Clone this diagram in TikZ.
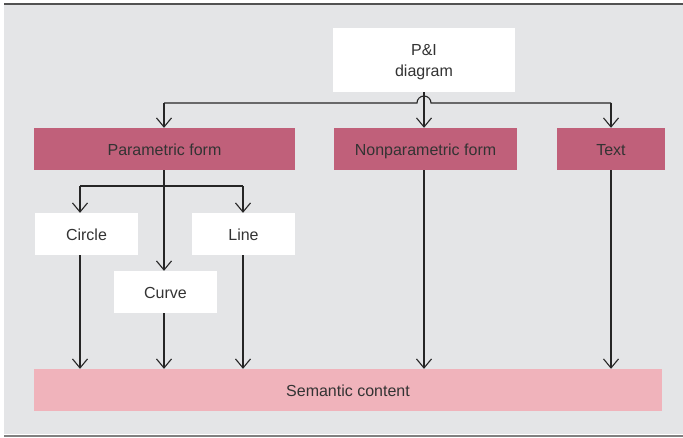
\documentclass[tikz,border=0pt]{standalone}
\usepackage{fontspec}
\setmainfont{Liberation Sans}
\usetikzlibrary{arrows.meta}
\definecolor{bg}{RGB}{228,229,231}
\definecolor{rose}{RGB}{192,96,122}
\definecolor{pink}{RGB}{240,179,187}
\definecolor{txt}{RGB}{51,51,51}
\begin{document}
\begin{tikzpicture}[x=1pt,y=-1pt,
  box/.style={draw=none,inner sep=0pt,text=txt,font=\fontsize{16}{21}\selectfont},
  one/.style={text height=13.5pt,text depth=0.5pt},
  wbox/.style={box,fill=white},
  rbox/.style={box,fill=rose},
  pbox/.style={box,fill=pink},
  conn/.style={draw=black!85,line width=1.1pt},
  arr/.style={conn,-{Straight Barb[length=9pt,width=15pt,line width=1.1pt]}}]
\useasboundingbox (0,0) rectangle (683,437);
\fill[bg] (4,4.5) rectangle (683,434);
\fill[black!68] (4,3) rectangle (683,4.8);
\fill[black!50] (4,434.5) rectangle (683,437);
% nodes
\node[wbox,align=center,text depth=0pt,minimum width=182pt,minimum height=64pt] (pid) at (424,60) {P\&I\\diagram};
\node[rbox,one,minimum width=261pt,minimum height=42pt] (pf) at (164.5,149) {Parametric form};
\node[rbox,one,minimum width=183pt,minimum height=42pt] (npf) at (425.5,149) {Nonparametric form};
\node[rbox,one,minimum width=108pt,minimum height=42pt] (tx) at (611,149) {Text};
\node[wbox,one,minimum width=103pt,minimum height=42pt] (ci) at (86.5,234) {Circle};
\node[wbox,one,minimum width=103pt,minimum height=42pt] (li) at (243.5,234) {Line};
\node[wbox,one,minimum width=103pt,minimum height=42pt] (cu) at (165.5,292) {Curve};
\node[pbox,one,minimum width=628pt,minimum height=42pt] (sc) at (348,390) {Semantic content};
% top bus
\coordinate (busL) at (164,103);
\coordinate (busR) at (611,103);
\coordinate (hopL) at (417,103);
\draw[conn] (busL) -- (hopL) arc[start angle=180,end angle=360,radius=7] -- (busR);
\draw[arr] (busL) -- (busL |- pf.north);
\draw[arr] (busR) -- (busR |- tx.north);
\draw[arr] (pid.south) -- (pid.south |- npf.north);
% second bus
\coordinate (b2L) at (80,186);
\coordinate (b2M) at (164,186);
\coordinate (b2R) at (243,186);
\draw[conn] (b2L) -- (b2R);
\draw[arr] (b2L) -- (b2L |- ci.north);
\draw[arr] (b2R) -- (b2R |- li.north);
\draw[arr] (b2M |- pf.south) -- (b2M |- cu.north);
% to semantic content
\draw[arr] (b2L |- ci.south) -- (b2L |- sc.north);
\draw[arr] (b2M |- cu.south) -- (b2M |- sc.north);
\draw[arr] (b2R |- li.south) -- (b2R |- sc.north);
\draw[arr] (pid.south |- npf.south) -- (pid.south |- sc.north);
\draw[arr] (busR |- tx.south) -- (busR |- sc.north);
\end{tikzpicture}
\end{document}
